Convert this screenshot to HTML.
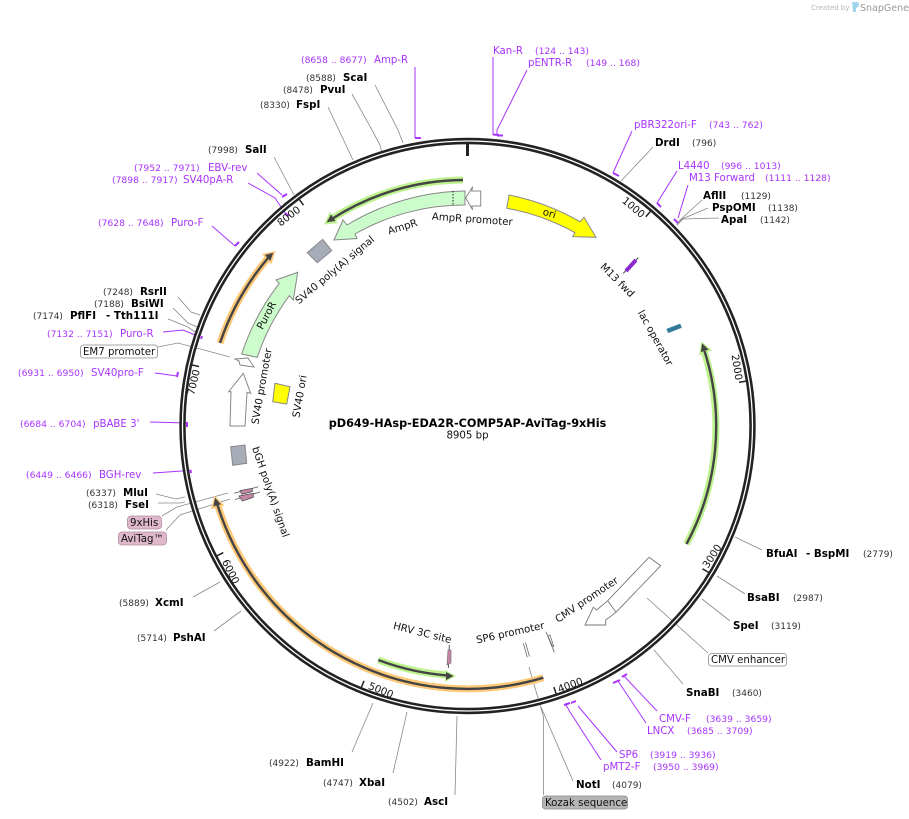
<!DOCTYPE html>
<html><head><meta charset="utf-8"><style>
html,body{margin:0;padding:0;background:#fff}
svg{display:block}
text{font-family:"DejaVu Sans",sans-serif;font-size:10.2px;fill:#111}
.e{font-weight:bold;fill:#000;font-size:10.3px}
.n{font-size:9px;fill:#333}
.p{fill:#a833ff;font-size:10.2px}
.q{font-size:9.2px;fill:#a833ff}
.c{fill:none;stroke:#888;stroke-width:.8}
.m{fill:none;stroke:#a833ff;stroke-width:1}
.t{fill:none;stroke:#a833ff;stroke-width:2}
.f{stroke:#888;stroke-width:1}
</style></head><body>
<svg width="909" height="819" viewBox="0 0 909 819" xmlns="http://www.w3.org/2000/svg">
<rect width="909" height="819" fill="#fff"/>
<!-- logo -->
<text x="811" y="10" style="font-size:7px;fill:#b5b5b5">Created by</text>
<path d="M852 2h6q2 3 0 5l-2 1v4h-3z" fill="#9fd4ec"/>
<text x="860" y="11" style="font-size:9.500px;fill:#9a9a9a">SnapGene</text>

<!-- connector lines -->
<g class="c">
<path d="M375 85L398 130L403 143"/><path d="M352 94L372 130L380 145L382 153"/><path d="M328 107L353 160"/><path d="M274 157L294 195"/>
<path d="M653 147L621 181"/>
<path d="M702 200L680 220L677 225"/><path d="M708 208L682 219L677 225"/><path d="M719 218L683 219L677 225"/>
<path d="M735 537L762 550"/><path d="M717 576L745 594"/><path d="M702 599L730 621"/><path d="M654 650L683 684"/>
<path d="M647 598L708 653"/>
<path d="M529 667L543.500 717V795"/><path d="M541 707L573 781"/>
<path d="M457 716L455 795"/><path d="M407 712L393 773"/><path d="M373 703L352 752"/>
<path d="M241 611L214 631"/><path d="M220 582L193 597"/>
<path d="M178 297L191 312L200 315"/><path d="M173 308L188 323L197 327"/><path d="M168 319L188 327L195 332"/>
<path d="M158 347L178 343L230 357"/>
<path d="M156 494L176 499L185 497"/><path d="M158 503H180L185 502"/>
<path d="M162 516L177 507L228 493"/><path d="M166 530L180 515L230 499"/>
</g>

<!-- primer lines -->
<g class="m">
<path d="M415 67V138"/><path d="M493 57V135"/><path d="M527 70L497 130V135"/>
<path d="M632 131L613 173"/><path d="M677 171L657 203"/><path d="M688 185L678 218"/>
<path d="M657 711L624 676"/><path d="M646 723L618 681"/>
<path d="M617 752L578 706"/><path d="M601 760L570 712L566 705"/>
<path d="M163 332L183 330L200 337"/><path d="M155 373L177 376"/><path d="M150 422L186 423"/><path d="M153 473L182 471L190 470"/>
<path d="M212 226L235 246"/><path d="M248 183L275 198L285 213"/><path d="M257 173L282 195"/>
</g>

<!-- ring -->
<circle cx="467.500" cy="426" r="285" fill="none" stroke="#222" stroke-width="6.400"/>
<circle cx="467.500" cy="426" r="285" fill="none" stroke="#fff" stroke-width="1.300"/>

<!-- primer ticks -->
<g class="t">
<path d="M415 138H421"/><path d="M493 134.500L499 135"/><path d="M497 135.500H503"/>
<path d="M613 173L619 176"/><path d="M657 203L661 207"/><path d="M674 219L678 223"/>
<path d="M622 677L627 674"/><path d="M613 683L620 680"/><path d="M564 705L570 703"/><path d="M571 703L576 701"/>
<path d="M202 336L201 339"/><path d="M178 372L177 377"/><path d="M187 422V427"/><path d="M190.500 470L191 473"/>
<path d="M235 246L239 242"/><path d="M285 213L289 216"/><path d="M282 197L287 194"/>
</g>

<!-- ticks -->
<g stroke="#222" stroke-width="1.500" fill="none">
<path d="M467.500 144V156" stroke-width="3"/>
<path d="M650.400 211.400L645.800 216.700"/><path d="M745.900 381.200L739 382.300"/><path d="M708.500 572.400L702.500 568.800"/><path d="M556.100 693.700L553.900 687.100"/><path d="M361.400 687.300L364 680.800"/><path d="M217.100 555.800L223.300 552.600"/><path d="M192 365L199 366.500"/><path d="M299.400 199.600L303.500 205.200"/>
</g>
<g text-anchor="middle">
<text transform="translate(631.300 210.100) rotate(40)">1000</text>
<text transform="translate(733.500 367.800) rotate(81)">2000</text>
<text transform="translate(715 558) rotate(-57)">3000</text>
<text transform="translate(571.400 688.300) rotate(-20)">4000</text>
<text transform="translate(379.600 693.400) rotate(22)">5000</text>
<text transform="translate(227.600 573.200) rotate(63)">6000</text>
<text transform="translate(197 383) rotate(-77)">7000</text>
<text transform="translate(290.800 218.900) rotate(-37)">8000</text>
</g>

<!-- halo arcs -->
<g fill="none" stroke-width="7">
<path d="M463 180A246 246 0 0 0 330 220" stroke="#bdf28f"/>
<path d="M686.500 544A248 248 0 0 0 704 351" stroke="#bdf28f"/>
<path d="M378.300 660A250 250 0 0 0 447 675" stroke="#bdf28f"/>
<path d="M220 343A260 260 0 0 1 268 258" stroke="#fdc877"/>
<path d="M543.300 677.700A262 262 0 0 1 218 506" stroke="#fdc877"/>
</g>
<polygon points="324,224.500 337.800,223.300 329.800,211.900" fill="#bdf28f"/>
<polygon points="701.500,341.500 712.100,350.500 698.900,355.100" fill="#bdf28f"/>
<polygon points="456,676 445,670 445,682" fill="#bdf28f"/>
<polygon points="275.500,251 271.500,264.300 262,254" fill="#fdc877"/>
<polygon points="214.500,495.700 224.500,505.300 211,509.100" fill="#fdc877"/>
<g fill="none" stroke="#444" stroke-width="2.400">
<path d="M463 180A246 246 0 0 0 331 219.500"/>
<path d="M686.500 544A248 248 0 0 0 704.500 351"/>
<path d="M378.300 660A250 250 0 0 0 448 675.500"/>
<path d="M220 343A260 260 0 0 1 268 258"/>
<path d="M543.300 677.700A262 262 0 0 1 217.500 505"/>
</g>
<g fill="#444">
<polygon points="326.700,222.300 335.600,221 331,214.400"/>
<polygon points="702,343.300 708.500,349.500 700.900,352.100"/>
<polygon points="453.500,676 446,672 446,680"/>
<polygon points="273.300,252.700 270.300,261 264.900,255"/>
<polygon points="215,497.700 221,504.300 213.400,506.500"/>
</g>

<!-- features -->
<path class="f" fill="#ccfccc" d="M465 191A235 235 0 0 0 347 225L343 220L334 240L357 238.500L355 234A221 221 0 0 1 465 205Z"/>
<path d="M453 191V205" stroke="#222" stroke-width="1" stroke-dasharray="1.500 1.500" fill="none"/>
<polygon class="f" fill="#fff" points="465.700,198 472.700,186.700 471.700,191 480.700,191 480.700,206 471.700,206 472.700,210"/>
<path class="f" fill="#ffff00" d="M509 195A235 235 0 0 1 580 221.700L584 217.300L596 237.300L572.700,236.700L575 232.700A221 221 0 0 0 506.700 208.300Z"/>
<path class="f" fill="#ccfccc" d="M241.700 354A237 237 0 0 1 279.300 283.300L276 280L297.700 272.300L293.300 300L289.300 295.700A221 221 0 0 0 257.300 357.300Z"/>
<polygon class="f" fill="#fff" points="235,359 248,358 254,367 240,365 239,361"/>
<polygon class="f" fill="#fff" points="243.300,373.300 250.700,393.300 247,392.500 245,426 230,426 231,391.700 228.700,391.700"/>
<polygon class="f" fill="#ffff00" points="275,383.300 290,386.700 286.700,404 272.700,401.700"/>
<polygon class="f" fill="#a6adb8" points="322.700,239.300 331.700,250.700 317.300,262.700 307.300,252.700"/>
<polygon class="f" fill="#a6adb8" points="230.700,446.700 245,445 246.700,463.300 232.700,465.300"/>
<polygon fill="#fff" stroke="#777" stroke-width=".9" points="649,557.300 660.700,565.700 616,612.300 605.700,620 605.700,625 585,625 593.300,607.300 596.700,610 607.700,600.700"/>
<path d="M607.700 600.700L616 612.300" stroke="#777" stroke-width=".9"/>
<g stroke="#666" stroke-width=".8" fill="none">
<path d="M523.300 643.300L527.300 657.300"/><path d="M525.500 642.500L529.500 656.500"/>
<path d="M546 631.700L554.300 652.300"/>
</g>
<polygon points="548,636 550,635 554,647 552,645" fill="#fff" stroke="#666" stroke-width=".7"/>
<path d="M623.300 273.300L638.300 257.700" stroke="#222" stroke-width=".8"/>
<path d="M626 271L636 260" stroke="#8a2bd0" stroke-width="4"/>
<path d="M667.300 331L681 325.700" stroke="#337a99" stroke-width="4.500"/>
<path d="M449.300 645L448.300 668" stroke="#444" stroke-width=".9"/>
<polygon points="448,650 451,650 451,663 447,665" fill="#c586a8" stroke="#666" stroke-width=".6"/>
<g stroke="#555" stroke-width=".8">
<path d="M234.300 493.300L258.300 486.700" fill="none"/><path d="M235 499.500L260 492" fill="none"/>
<polygon points="240,490.700 252.300,488.300 252.300,491.700 241.700,494.300" fill="#c586a8"/>
<polygon points="239,496 253.300,493.300 253.300,497.300 242.300,501" fill="#c586a8"/>
</g>

<!-- feature labels -->
<g text-anchor="middle">
<text transform="translate(472 222.500) rotate(4)">AmpR promoter</text>
<text transform="translate(403.500 230) rotate(-17)">AmpR</text>
<text transform="translate(337 272.500) rotate(-40)">SV40 poly(A) signal</text>
<text transform="translate(269.500 317) rotate(-62)">PuroR</text>
<text transform="translate(265 387) rotate(-80)">SV40 promoter</text>
<text transform="translate(303 397) rotate(-80)">SV40 ori</text>
<text transform="translate(267.500 493) rotate(71)">bGH poly(A) signal</text>
<text transform="translate(421.500 636) rotate(14)">HRV 3C site</text>
<text transform="translate(511 636) rotate(-12.500)">SP6 promoter</text>
<text transform="translate(588.500 602.500) rotate(-34)">CMV promoter</text>
<text transform="translate(615 282.500) rotate(45)">M13 fwd</text>
<text transform="translate(652.500 339.500) rotate(61)">lac operator</text>
<text transform="translate(548.500 216.500) rotate(17)">ori</text>
<text x="467.500" y="427" class="e" style="font-size:11.250px">pD649-HAsp-EDA2R-COMP5AP-AviTag-9xHis</text>
<text x="467.500" y="438.500">8905 bp</text>
</g>

<!-- outer labels -->
<text x="301" y="63" class="q">(8658 .. 8677)</text><text x="374" y="63" class="p">Amp-R</text>
<text x="493" y="54" class="p">Kan-R</text><text x="535" y="54" class="q">(124 .. 143)</text>
<text x="528" y="66" class="p">pENTR-R</text><text x="586" y="66" class="q">(149 .. 168)</text>
<text x="634" y="128" class="p">pBR322ori-F</text><text x="709" y="128" class="q">(743 .. 762)</text>
<text x="655" y="146" class="e">DrdI</text><text x="692" y="146" class="n">(796)</text>
<text x="678" y="169" class="p">L4440</text><text x="721" y="169" class="q">(996 .. 1013)</text>
<text x="689" y="181" class="p">M13 Forward</text><text x="765" y="181" class="q">(1111 .. 1128)</text>
<text x="703" y="199" class="e">AflII</text><text x="741" y="199" class="n">(1129)</text>
<text x="712" y="211" class="e">PspOMI</text><text x="768" y="211" class="n">(1138)</text>
<text x="721" y="223" class="e">ApaI</text><text x="760" y="223" class="n">(1142)</text>
<text x="766" y="557" class="e">BfuAI</text><text x="806" y="557" class="e">- BspMI</text><text x="863" y="557" class="n">(2779)</text>
<text x="747" y="601" class="e">BsaBI</text><text x="793" y="601" class="n">(2987)</text>
<text x="733" y="629" class="e">SpeI</text><text x="771" y="629" class="n">(3119)</text>
<rect x="708.500" y="653.500" width="78" height="12.500" rx="3" fill="#fff" stroke="#888" stroke-width=".8"/><text x="711" y="663">CMV enhancer</text>
<text x="686" y="696" class="e">SnaBI</text><text x="732" y="696" class="n">(3460)</text>
<text x="659" y="722" class="p">CMV-F</text><text x="706" y="722" class="q">(3639 .. 3659)</text>
<text x="647" y="734" class="p">LNCX</text><text x="687" y="734" class="q">(3685 .. 3709)</text>
<text x="619" y="758" class="p">SP6</text><text x="650" y="758" class="q">(3919 .. 3936)</text>
<text x="603" y="770" class="p">pMT2-F</text><text x="653" y="770" class="q">(3950 .. 3969)</text>
<text x="576" y="788" class="e">NotI</text><text x="612" y="788" class="n">(4079)</text>
<rect x="542.500" y="796" width="85" height="13" rx="3" fill="#b5b5b5" stroke="#888" stroke-width=".8"/><text x="545" y="806">Kozak sequence</text>
<text x="388" y="805" class="n">(4502)</text><text x="424" y="805" class="e">AscI</text>
<text x="323" y="786" class="n">(4747)</text><text x="359" y="786" class="e">XbaI</text>
<text x="269" y="766" class="n">(4922)</text><text x="306" y="766" class="e">BamHI</text>
<text x="137" y="641" class="n">(5714)</text><text x="173" y="641" class="e">PshAI</text>
<text x="119" y="606" class="n">(5889)</text><text x="155" y="606" class="e">XcmI</text>
<rect x="118.500" y="532" width="48" height="13" rx="3.500" fill="#e0b8cc" stroke="#b08aa0" stroke-width=".8"/><text x="121" y="542">AviTag™</text>
<rect x="127.500" y="516" width="34" height="13" rx="3.500" fill="#e0b8cc" stroke="#b08aa0" stroke-width=".8"/><text x="130" y="526">9xHis</text>
<text x="88" y="508" class="n">(6318)</text><text x="125" y="508" class="e">FseI</text>
<text x="86" y="496" class="n">(6337)</text><text x="123" y="496" class="e">MluI</text>
<text x="26" y="478" class="q">(6449 .. 6466)</text><text x="99" y="478" class="p">BGH-rev</text>
<text x="20" y="427" class="q">(6684 .. 6704)</text><text x="93" y="427" class="p">pBABE 3'</text>
<text x="18" y="376" class="q">(6931 .. 6950)</text><text x="91" y="376" class="p">SV40pro-F</text>
<rect x="80.500" y="345" width="77" height="13" rx="3" fill="#fff" stroke="#888" stroke-width=".8"/><text x="83" y="355">EM7 promoter</text>
<text x="47" y="337" class="q">(7132 .. 7151)</text><text x="120" y="337" class="p">Puro-R</text>
<text x="33" y="319" class="n">(7174)</text><text x="70" y="319" class="e">PflFI</text><text x="106" y="319" class="e">- Tth111I</text>
<text x="94" y="307" class="n">(7188)</text><text x="131" y="307" class="e">BsiWI</text>
<text x="103" y="295" class="n">(7248)</text><text x="140" y="295" class="e">RsrII</text>
<text x="98" y="226" class="q">(7628 .. 7648)</text><text x="171" y="226" class="p">Puro-F</text>
<text x="112" y="183" class="q">(7898 .. 7917)</text><text x="183" y="183" class="p">SV40pA-R</text>
<text x="134" y="171" class="q">(7952 .. 7971)</text><text x="208" y="171" class="p">EBV-rev</text>
<text x="208" y="153" class="n">(7998)</text><text x="245" y="153" class="e">SalI</text>
<text x="260" y="108" class="n">(8330)</text><text x="296" y="108" class="e">FspI</text>
<text x="283" y="93" class="n">(8478)</text><text x="320" y="93" class="e">PvuI</text>
<text x="306" y="81" class="n">(8588)</text><text x="343" y="81" class="e">ScaI</text>
</svg>
</body></html>
